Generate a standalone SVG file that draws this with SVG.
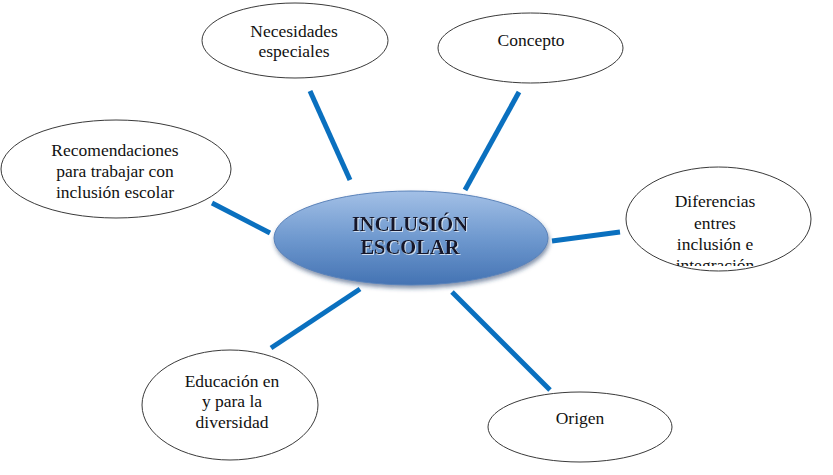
<svg xmlns="http://www.w3.org/2000/svg" width="833" height="475" viewBox="0 0 833 475">
<style>
.n{fill:#fff;stroke:#3a3a3a;stroke-width:1}
.t{font-family:"Liberation Serif","Times New Roman",serif;font-size:17.5px;fill:#111;text-anchor:middle}
.c{stroke:#0a70bf;stroke-width:5;stroke-linecap:butt;fill:none}
.ct{font-family:"Liberation Serif","Times New Roman",serif;font-size:20.5px;font-weight:bold;fill:#15192a;text-anchor:middle}
</style>
<defs>
<linearGradient id="g" x1="0" y1="0" x2="0" y2="1">
<stop offset="0" stop-color="#a3c0e6"/>
<stop offset="0.5" stop-color="#6f99cf"/>
<stop offset="1" stop-color="#4473b3"/>
</linearGradient>
<filter id="sh" x="-20%" y="-30%" width="140%" height="160%">
<feDropShadow dx="1" dy="3" stdDeviation="2" flood-color="#1f3a66" flood-opacity="0.55"/>
</filter>
<filter id="ts" x="-10%" y="-30%" width="120%" height="160%">
<feDropShadow dx="1" dy="1" stdDeviation="0.6" flood-color="#dbe6f5" flood-opacity="0.9"/>
</filter>
<clipPath id="dc"><rect x="620" y="160" width="200" height="106"/></clipPath>
</defs>
<rect width="833" height="475" fill="#fff"/>
<g id="connectors">
<line class="c" x1="310" y1="91" x2="350" y2="180"/>
<line class="c" x1="519" y1="92" x2="465" y2="190"/>
<line class="c" x1="212" y1="203" x2="270" y2="233"/>
<line class="c" x1="552" y1="241" x2="620" y2="232"/>
<line class="c" x1="271" y1="348" x2="360" y2="289"/>
<line class="c" x1="452" y1="292" x2="550" y2="390"/>
</g>
<g id="center">
<ellipse cx="411" cy="238" rx="137" ry="47" fill="url(#g)" stroke="#5a82b9" stroke-width="1" filter="url(#sh)"/>
<text class="ct" x="410" y="231" filter="url(#ts)">INCLUSIÓN</text>
<text class="ct" x="410" y="254" filter="url(#ts)">ESCOLAR</text>
</g>
<g id="necesidades">
<ellipse class="n" cx="295" cy="40.5" rx="93" ry="37.5"/>
<text class="t" x="294" y="37">Necesidades</text>
<text class="t" x="294" y="57">especiales</text>
</g>
<g id="concepto">
<ellipse class="n" cx="530.5" cy="48" rx="92.5" ry="35"/>
<text class="t" x="531" y="46">Concepto</text>
</g>
<g id="recomendaciones">
<ellipse class="n" cx="116" cy="169" rx="115" ry="49"/>
<text class="t" x="115" y="156">Recomendaciones</text>
<text class="t" x="115" y="177">para trabajar con</text>
<text class="t" x="115" y="198">inclusión escolar</text>
</g>
<g id="diferencias">
<ellipse class="n" cx="718.5" cy="219" rx="92.5" ry="52"/>
<g clip-path="url(#dc)">
<text class="t" x="715" y="207">Diferencias</text>
<text class="t" x="715" y="229">entres</text>
<text class="t" x="715" y="250">inclusión e</text>
<text class="t" x="715" y="271">integración</text>
</g>
</g>
<g id="educacion">
<ellipse class="n" cx="230" cy="405" rx="88" ry="55"/>
<text class="t" x="232" y="387">Educación en</text>
<text class="t" x="232" y="407">y para la</text>
<text class="t" x="232" y="428">diversidad</text>
</g>
<g id="origen">
<ellipse class="n" cx="580" cy="427" rx="92" ry="35"/>
<text class="t" x="580" y="424">Origen</text>
</g>
</svg>
